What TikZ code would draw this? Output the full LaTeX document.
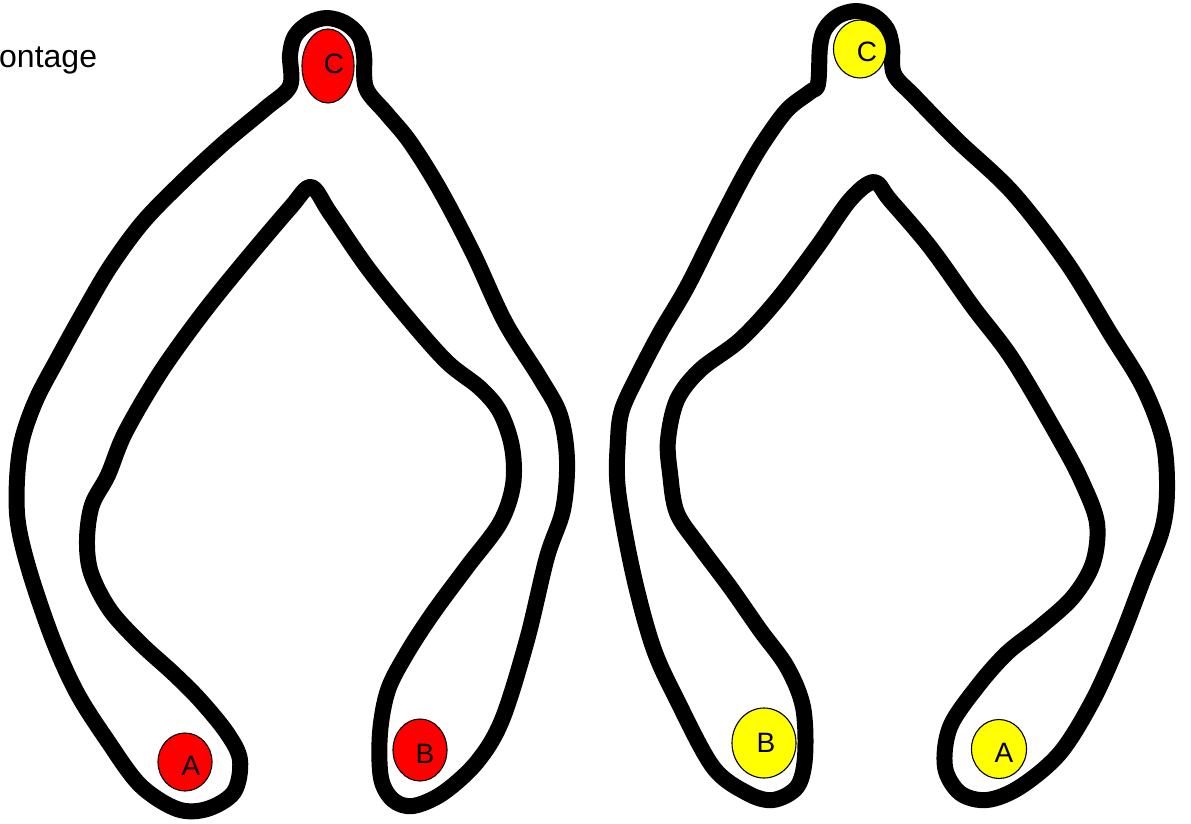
\documentclass[tikz,border=0pt]{standalone}
\usepackage{fontspec}
\setmainfont{Liberation Sans}
\usetikzlibrary{shapes.geometric}
\definecolor{ballred}{RGB}{255,0,0}
\definecolor{ballyellow}{RGB}{255,255,0}
\tikzset{
  wish/.style={draw=black, line width=16pt, line join=round, line cap=round},
  ball/.style={ellipse, draw=black, line width=1.1pt, inner sep=0pt},
  redball/.style={ball, fill=ballred},
  yellowball/.style={ball, fill=ballyellow},
  balltext/.style={font=\fontsize{28}{30}\selectfont, inner sep=0pt}
}
\begin{document}
\begin{tikzpicture}[x=1pt,y=-1pt]
\useasboundingbox (0,0) rectangle (1191,824);
\fill[white] (0,0) rectangle (1191,824);

% caption fragment
\node[anchor=base west, inner sep=0pt, font=\fontsize{32}{36}\selectfont] (cap) at (-1,68) {ontage};

% left wishbone
\draw[wish] plot[smooth cycle, tension=0.55] coordinates {
 (290,86) (290,55) (295,36) (309,23) (327,18) (345,23) (359,36) (364,55) (366,88)
 (386,113) (410,142) (440,190) (473,253) (505,322) (540,378) (560,415) (567,460)
 (563,510) (547,557) (527,640) (502,720) (477,762) (443,793) (413,806) (393,800)
 (381,778) (380,733) (388,690) (407,653) (433,613) (467,567) (500,523) (513,485)
 (512,447) (500,412) (480,388) (447,362) (407,317) (367,267) (330,213) (311,187)
 (290,208) (240,267) (200,317) (160,373) (125,433) (108,475) (92,505) (87,540)
 (91,573) (110,610) (140,643) (173,673) (200,700) (227,733) (240,760) (234,792)
 (207,809) (177,809) (140,785) (107,740) (77,693) (53,640) (30,573) (18,523)
 (17,480) (22,440) (36,400) (57,360) (83,313) (110,267) (143,222) (183,181)
 (224,143) (266,108)};

% right wishbone
\draw[wish] plot[smooth cycle, tension=0.55] coordinates {
 (818,84) (820,47) (825,29) (838,16) (856,11) (874,16) (887,29) (892,47) (894,74)
 (915,97) (957,140) (1013,193) (1067,263) (1110,333) (1143,387) (1163,440)
 (1167,490) (1162,530) (1143,580) (1120,640) (1093,700) (1060,753) (1020,787)
 (987,800) (960,793) (945,767) (950,727) (977,687) (1007,653) (1040,627)
 (1073,597) (1093,563) (1097,523) (1082,482) (1060,440) (1013,360) (973,307)
 (930,247) (890,200) (874,182) (850,200) (817,247) (777,300) (740,340) (700,370)
 (677,400) (668,440) (670,473) (677,513) (700,547) (730,587) (760,630) (787,667)
 (803,707) (805,757) (797,787) (773,800) (747,793) (713,767) (677,700) (653,647)
 (633,573) (618,490) (618,440) (622,410) (637,377) (660,333) (687,287) (717,227)
 (743,177) (763,143) (787,110) (810,92)};

% left balls
\node[redball, minimum width=52pt, minimum height=74pt,
      label={[balltext, xshift=6pt, yshift=2pt]center:C}] (lC) at (328,66) {};
\node[redball, minimum width=54pt, minimum height=58pt,
      label={[balltext, xshift=6pt, yshift=-4pt]center:A}] (lA) at (185,762) {};
\node[redball, minimum width=54pt, minimum height=62pt,
      label={[balltext, xshift=5pt, yshift=-4pt]center:B}] (lB) at (420,750) {};

% right balls
\node[yellowball, minimum width=53pt, minimum height=58pt,
      label={[balltext, xshift=7pt, yshift=-3pt]center:C}] (rC) at (860,49) {};
\node[yellowball, minimum width=64pt, minimum height=70pt,
      label={[balltext, xshift=2pt, yshift=0pt]center:B}] (rB) at (764,743) {};
\node[yellowball, minimum width=55pt, minimum height=59pt,
      label={[balltext, xshift=5pt, yshift=-4pt]center:A}] (rA) at (999,749) {};
\end{tikzpicture}
\end{document}
